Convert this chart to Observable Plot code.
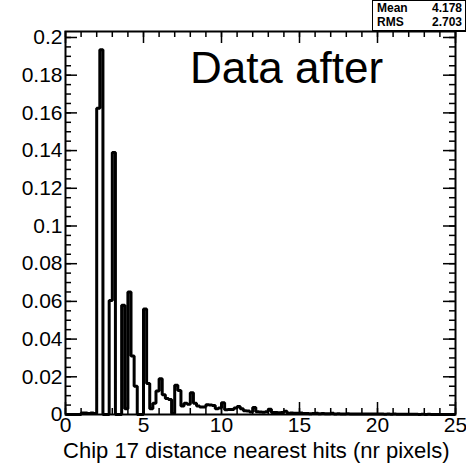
<!DOCTYPE html>
<html>
<head>
<meta charset="utf-8">
<script src="https://cdn.jsdelivr.net/npm/d3@7"></script>
<script src="https://cdn.jsdelivr.net/npm/@observablehq/plot@0.6"></script>
<style>
  html, body { margin: 0; padding: 0; background: white; }
  #wrap { position: relative; width: 466px; height: 465px; overflow: hidden; font-family: "Liberation Sans", Arial, Helvetica, sans-serif; }
  #stats { position: absolute; left: 372px; top: 0px; width: 92px; height: 29px; border: 1px solid black; box-shadow: 1px 1px 0 black; background: white; font-weight: bold; font-size: 12px; line-height: 14px; }
  #stats .row { display: flex; justify-content: space-between; padding: 0 3px 0 4px; }
</style>
</head>
<body>
<div id="wrap"></div>
<script>
// ---- data ----
const binLow = 0;            // histogram range start
const binWidth = 0.2;        // bin width (125 bins over 0..25)
const binValues = [
  0, 0, 0, 0, 0, 0.0008, 0.0008, 0.0005, 0.0008, 0.0005,
  0.1625, 0.1935, 0, 0, 0.0605, 0.139, 0, 0, 0.058, 0.003,
  0.065, 0.031, 0.015, 0, 0, 0.056, 0.0165, 0.003, 0.006, 0.0125,
  0.019, 0.0105, 0.0085, 0.008, 0.0005, 0.0155, 0.0127, 0.0045, 0.006, 0.0055,
  0.0115, 0.006, 0.0045, 0.004, 0.004, 0.0052, 0.005, 0.0048, 0.003, 0.0035,
  0.0062, 0.0025, 0.0027, 0.0026, 0.0035, 0.0042, 0.003, 0.002, 0.0018, 0.0013,
  0.0037, 0.0014, 0.0013, 0.0012, 0.0015, 0.0028, 0.001, 0.0011, 0.0009, 0.001,
  0.0017, 0.0007, 0.0008, 0.0006, 0.0007, 0.0008, 0.0005, 0.0005, 0.0004, 0.0005,
  0.0006, 0.0004, 0.0005, 0.0004, 0.0004, 0.0006, 0.0003, 0.0004, 0.0003, 0.0003,
  0.0004, 0.0003, 0.0003, 0.0002, 0.0003, 0.0003, 0.0002, 0.0002, 0.0002, 0.0002,
  0.0002, 0.0002, 0.0001, 0.0002, 0.0001, 0.0002, 0.0001, 0.0001, 0.0001, 0.0001,
  0.0001, 0.0001, 0.0001, 0, 0.0001, 0, 0.0001, 0, 0, 0,
  0, 0, 0, 0, 0
];
const xTicks = [0, 5, 10, 15, 20, 25];
const xTickLabels = ["0", "5", "10", "15", "20", "25"];
const xMinorTicks = d3.range(0, 26, 1);
const yTicks = [0, 0.02, 0.04, 0.06, 0.08, 0.1, 0.12, 0.14, 0.16, 0.18, 0.2];
const yTickLabels = ["0", "0.02", "0.04", "0.06", "0.08", "0.1", "0.12", "0.14", "0.16", "0.18", "0.2"];
const yMinorTicks = d3.range(0, 41).map(k => k * 0.005);
const xTitle = "Chip 17 distance nearest hits (nr pixels)";
const annotation = "Data after";
const statNames = ["Mean", "RMS"];
const statValues = ["4.178", "2.703"];

// ---- build ----
const nBins = binValues.length;
const xMax = binLow + nBins * binWidth;
const yMax = d3.max(binValues) * 1.05;
const outline = d3.range(nBins + 1).map(k => ({
  x: binLow + k * binWidth,
  y: binValues[Math.min(k, nBins - 1)]
}));
const xLab = new Map(xTicks.map((t, i) => [t, xTickLabels[i]]));
const yLab = new Map(yTicks.map((t, i) => [t, yTickLabels[i]]));

const W = 466, H = 465, mL = 65, mR = 11, mT = 31, mB = 51;
const fh = H - mT - mB, fw = W - mL - mR;
const font = "'Liberation Sans', Arial, Helvetica, sans-serif";

const chart = Plot.plot({
  width: W, height: H,
  marginLeft: mL, marginRight: mR, marginTop: mT, marginBottom: mB,
  x: {domain: [binLow, xMax], label: null},
  y: {domain: [0, yMax], label: null},
  style: {fontFamily: font, fontSize: "21px", background: "white", color: "black", overflow: "visible"},
  marks: [
    Plot.line(outline, {x: "x", y: "y", curve: "step-after", stroke: "black", strokeWidth: 3, strokeLinejoin: "miter", strokeLinecap: "butt"}),
    // bottom / top x ticks (inside the frame)
    Plot.tickX(xMinorTicks, {x: d => d, insetTop: fh - 6, stroke: "black", strokeWidth: 1.5}),
    Plot.tickX(xTicks, {x: d => d, insetTop: fh - 12, stroke: "black", strokeWidth: 1.5}),
    Plot.tickX(xMinorTicks, {x: d => d, insetBottom: fh - 6, stroke: "black", strokeWidth: 1.5}),
    Plot.tickX(xTicks, {x: d => d, insetBottom: fh - 12, stroke: "black", strokeWidth: 1.5}),
    // left / right y ticks
    Plot.tickY(yMinorTicks.filter(d => d <= yMax), {y: d => d, insetRight: fw - 6, stroke: "black", strokeWidth: 1.5}),
    Plot.tickY(yTicks, {y: d => d, insetRight: fw - 12, stroke: "black", strokeWidth: 1.5}),
    Plot.tickY(yMinorTicks.filter(d => d <= yMax), {y: d => d, insetLeft: fw - 6, stroke: "black", strokeWidth: 1.5}),
    Plot.tickY(yTicks, {y: d => d, insetLeft: fw - 12, stroke: "black", strokeWidth: 1.5}),
    Plot.frame({stroke: "black", strokeWidth: 2}),
    Plot.axisX(xTicks, {tickSize: 0, tickPadding: 3, tickFormat: d => xLab.get(d), fontSize: 21, label: null}),
    Plot.axisY(yTicks, {tickSize: 0, tickPadding: 3, tickFormat: d => yLab.get(d), fontSize: 21, label: null}),
    Plot.text([xTitle], {text: d => d, frameAnchor: "bottom-right", textAnchor: "end", dx: -6, dy: 43, fontSize: 22}),
    Plot.text([annotation], {text: d => d, frameAnchor: "top", lineAnchor: "top", dx: 26, dy: 20, fontSize: 44})
  ]
});

const wrap = document.getElementById("wrap");
wrap.appendChild(chart);
const box = document.createElement("div");
box.id = "stats";
statNames.forEach((n, i) => {
  const row = document.createElement("div");
  row.className = "row";
  const a = document.createElement("span"); a.textContent = n;
  const b = document.createElement("span"); b.textContent = statValues[i];
  row.appendChild(a); row.appendChild(b);
  box.appendChild(row);
});
wrap.appendChild(box);
</script>
</body>
</html>
